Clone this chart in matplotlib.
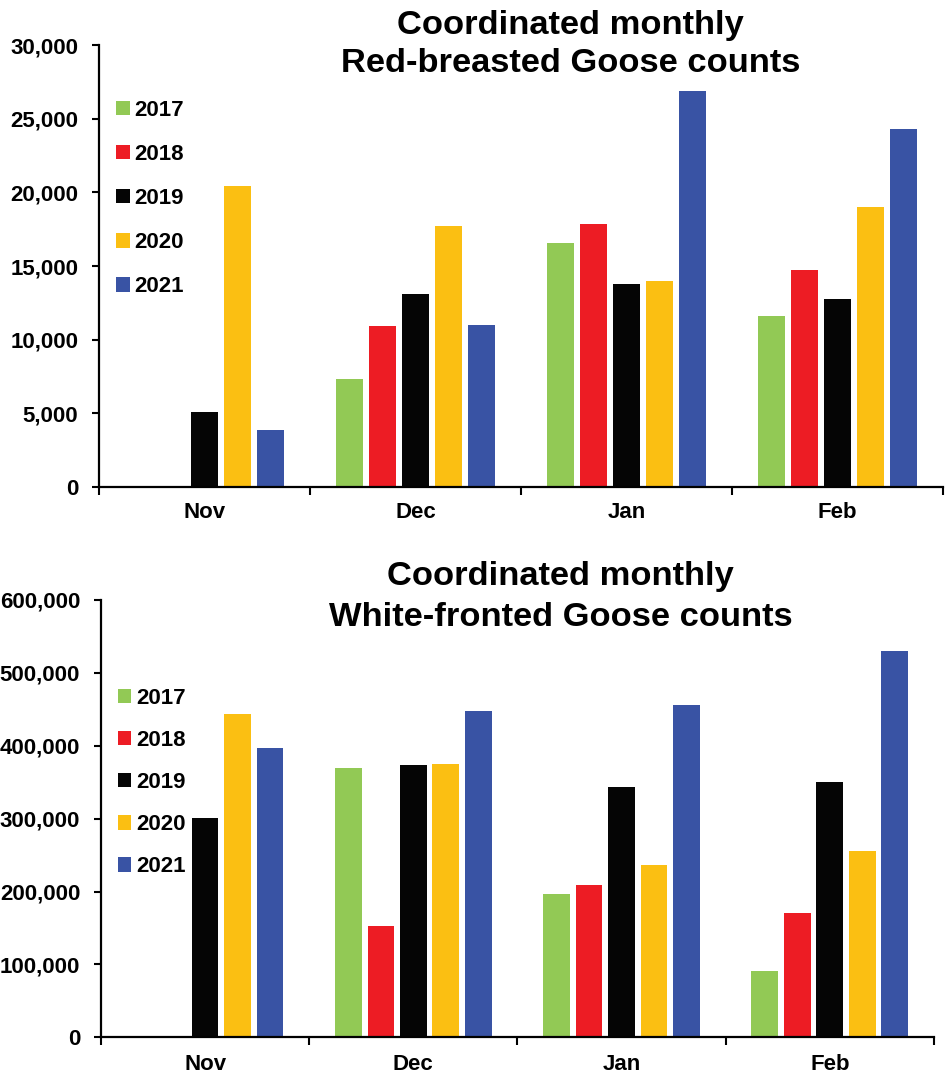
import numpy as np
import matplotlib
matplotlib.use('Agg')
import matplotlib.pyplot as plt
from matplotlib.ticker import StrMethodFormatter

plt.rcParams['font.family'] = ['Liberation Sans', 'DejaVu Sans']
plt.rcParams['font.weight'] = 'bold'

months = ['Nov', 'Dec', 'Jan', 'Feb']
years = ['2017', '2018', '2019', '2020', '2021']
colors = ['#92C955', '#ED1C24', '#050505', '#FBBF12', '#3953A4']

# Red-breasted Goose counts per year (Nov, Dec, Jan, Feb); nan = no count
red_breasted = {
    '2017': [np.nan, 7330, 16560, 11630],
    '2018': [np.nan, 10900, 17880, 14710],
    '2019': [5070, 13080, 13800, 12760],
    '2020': [20450, 17700, 13990, 19000],
    '2021': [3870, 11000, 26900, 24280],
}

# White-fronted Goose counts per year (Nov, Dec, Jan, Feb)
white_fronted = {
    '2017': [np.nan, 370000, 197000, 90500],
    '2018': [np.nan, 152700, 208500, 171000],
    '2019': [301000, 373600, 343800, 350700],
    '2020': [444000, 375400, 236400, 256000],
    '2021': [396500, 447700, 455500, 529600],
}


def plot_panel(ax, data, ymax, ystep, legend_top, legend_step, xpad):
    x = np.arange(len(months))
    slot = 0.156
    for i, year in enumerate(years):
        ax.bar(x + (i - 2) * slot, data[year], width=0.128,
               color=colors[i], label=year)

    ax.set_xlim(-0.5, len(months) - 0.5)
    ax.set_ylim(0, ymax)
    ax.set_yticks(np.arange(0, ymax + 1, ystep))
    ax.yaxis.set_major_formatter(StrMethodFormatter('{x:,.0f}'))

    # month labels in the middle, tick marks on the boundaries
    ax.set_xticks(x)
    ax.set_xticklabels(months)
    ax.set_xticks(np.arange(-0.5, len(months)), minor=True)
    ax.tick_params(axis='x', which='major', length=0, pad=xpad, labelsize=16)
    ax.tick_params(axis='x', which='minor', length=6, width=1.5,
                   direction='out')
    ax.tick_params(axis='y', length=5, width=1.5, labelsize=16, pad=10)

    for side in ['top', 'right']:
        ax.spines[side].set_visible(False)
    for side in ['left', 'bottom']:
        ax.spines[side].set_linewidth(1.6)

    ax.legend(loc='upper left', bbox_to_anchor=(0.02, legend_top),
              frameon=False, fontsize=16, handlelength=0.62,
              handleheight=0.62, handletextpad=0.2,
              labelspacing=legend_step, borderpad=0, borderaxespad=0)


fig = plt.figure(figsize=(9.49, 10.77), dpi=100)

ax1 = fig.add_axes([0.1043, 0.5478, 0.8894, 0.4104])
plot_panel(ax1, red_breasted, 30000, 5000, 0.876, 1.04, 11)
fig.text(0.601, 0.991, 'Coordinated monthly\nRed-breasted Goose counts',
         ha='center', va='top', fontsize=24.8, fontweight='bold',
         linespacing=1.29)

ax2 = fig.add_axes([0.1064, 0.0369, 0.8777, 0.4060])
plot_panel(ax2, white_fronted, 600000, 100000, 0.799, 0.95, 12)
fig.text(0.591, 0.479, 'Coordinated monthly\nWhite-fronted Goose counts',
         ha='center', va='top', fontsize=24.8, fontweight='bold',
         linespacing=1.42)

fig.savefig('out.png', dpi=100)
